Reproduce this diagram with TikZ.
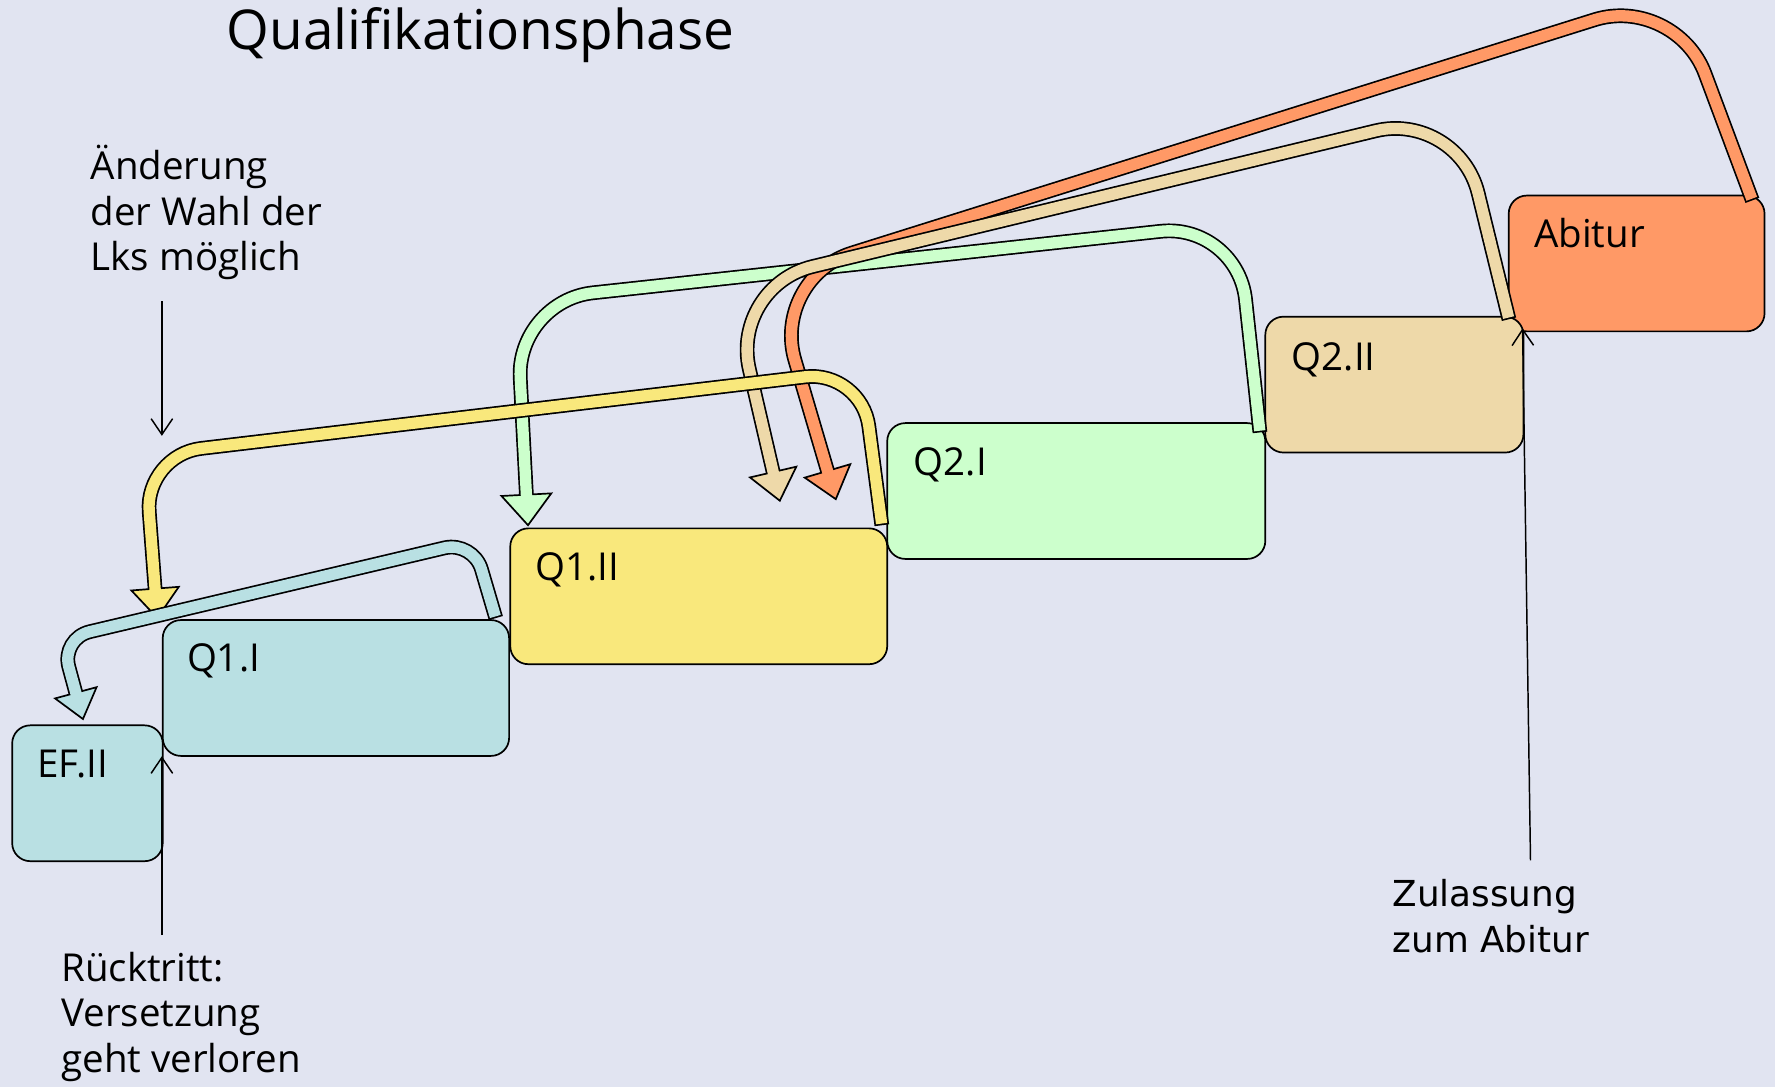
\documentclass[tikz,border=0pt]{standalone}
\usepackage{fontspec}
\setmainfont{Open Sans}
\newfontfamily\zfont{DejaVu Sans}
\usetikzlibrary{calc,arrows.meta}
\definecolor{bgc}{RGB}{225,228,241}
\definecolor{cteal}{RGB}{185,224,227}
\definecolor{cyel}{RGB}{249,232,124}
\definecolor{cgreen}{RGB}{204,255,204}
\definecolor{ctan}{RGB}{238,217,169}
\definecolor{corange}{RGB}{255,153,102}
% #1 colour, #2 corner radius, #3 start, #4 corner 1, #5 corner 2, #6 end (head base), #7 head half width, #8 head length
\newcommand\fatarrow[8]{%
  \draw[line width=13pt, rounded corners=#2] (#3) -- (#4) -- (#5) -- (#6);
  \draw[fill=#1, line width=1.5pt, line join=miter]
     ($(#6)!#7!90:(#5)$) -- ($(#6)!-#8!(#5)$) -- ($(#6)!#7!-90:(#5)$) -- cycle;
  \draw[#1, line width=10pt, rounded corners=#2, shorten <=1.5pt, shorten >=-4pt]
     (#3) -- (#4) -- (#5) -- (#6);
}
\begin{document}
\begin{tikzpicture}[x=1pt, y=-1pt,
  box/.style={draw=black, line width=1.5pt, rounded corners=16pt, minimum height=120pt,
              inner sep=0pt, anchor=north west},
  lbl/.style={font=\fontsize{34}{40}\selectfont, anchor=base west, inner sep=0pt},
  note/.style={font=\fontsize{34}{40}\selectfont, align=left, anchor=base west, inner sep=0pt},
  callout/.style={line width=1.3pt, -{Straight Barb[length=14pt,width=19pt,line width=1.3pt]}}]
\fill[bgc] (0,0) rectangle (1568,960);
\useasboundingbox (0,0) rectangle (1568,960);

% title
\node[anchor=base west, inner sep=0pt, font=\fontsize{48.5}{52}\selectfont] (title) at (200,44) {Qualifikationsphase};

% boxes
\node[box, fill=cteal, minimum width=133pt] (ef) at (10,640) {};
\node[box, fill=cteal, minimum width=306pt] (q11) at (143,547) {};
\node[box, fill=cyel, minimum width=333pt] (q12) at (450,466) {};
\node[box, fill=cgreen, minimum width=334pt] (q21) at (783,373) {};
\node[box, fill=corange, minimum width=226pt] (abi) at (1332,172) {};
\node[box, fill=ctan, minimum width=228pt] (q22) at (1117,279) {};

\node[lbl] (eft) at ($(ef.north west)+(23,47)$) {EF.II};
\node[lbl] (q11t) at ($(q11.north west)+(22,46)$) {Q1.I};
\node[lbl] (q12t) at ($(q12.north west)+(23,47)$) {Q1.II};
\node[lbl] (q21t) at ($(q21.north west)+(24,47)$) {Q2.I};
\node[lbl] (q22t) at ($(q22.north west)+(24,48)$) {Q2.II};
\node[lbl] (abit) at ($(abi.north west)+(23,47)$) {Abitur};

% arrow coordinates
\coordinate (g0) at (1113,382); \coordinate (g1) at (1093,197); \coordinate (g2) at (456,266); \coordinate (g3) at (465,437);
\coordinate (o0) at (1548,177); \coordinate (o1) at (1480,-5);  \coordinate (o2) at (681,246); \coordinate (o3) at (731,416);
\coordinate (t0) at (1333,282); \coordinate (t1) at (1288,98);  \coordinate (t2) at (645,253); \coordinate (t3) at (683,417);
\coordinate (y0) at (779,464);  \coordinate (y1) at (761,327);  \coordinate (y2) at (128,402); \coordinate (y3) at (137,520);
\coordinate (k0) at (438,546);  \coordinate (k1) at (418,478);  \coordinate (k2) at (54,564);  \coordinate (k3) at (67,612);

\fatarrow{cgreen}{68pt}{g0}{g1}{g2}{g3}{22pt}{27pt}
\fatarrow{corange}{75pt}{o0}{o1}{o2}{o3}{21pt}{26pt}
\fatarrow{ctan}{75pt}{t0}{t1}{t2}{t3}{21pt}{26pt}
\fatarrow{cyel}{50pt}{y0}{y1}{y2}{y3}{21pt}{26pt}
\fatarrow{cteal}{26pt}{k0}{k1}{k2}{k3}{19pt}{24pt}

% notes and callouts (base anchor = last line)
\node[note] (aend) at (80,239) {Änderung\\der Wahl der\\Lks möglich};
\node[note] (rt) at (54,947) {Rücktritt:\\Versetzung\\geht verloren};
\node[note, font=\zfont\fontsize{31.6}{40}\selectfont] (zul) at (1230,841) {Zulassung\\zum Abitur};

\coordinate (c1a) at (143,266); \coordinate (c1b) at (143,385);
\coordinate (c2a) at (143,826); \coordinate (c2b) at (143,668);
\coordinate (c3a) at (1352,760); \coordinate (c3b) at (1345,290);
\draw[callout] (c1a) -- (c1b);
\draw[callout] (c2a) -- (c2b);
\draw[callout] (c3a) -- (c3b);
\end{tikzpicture}
\end{document}
